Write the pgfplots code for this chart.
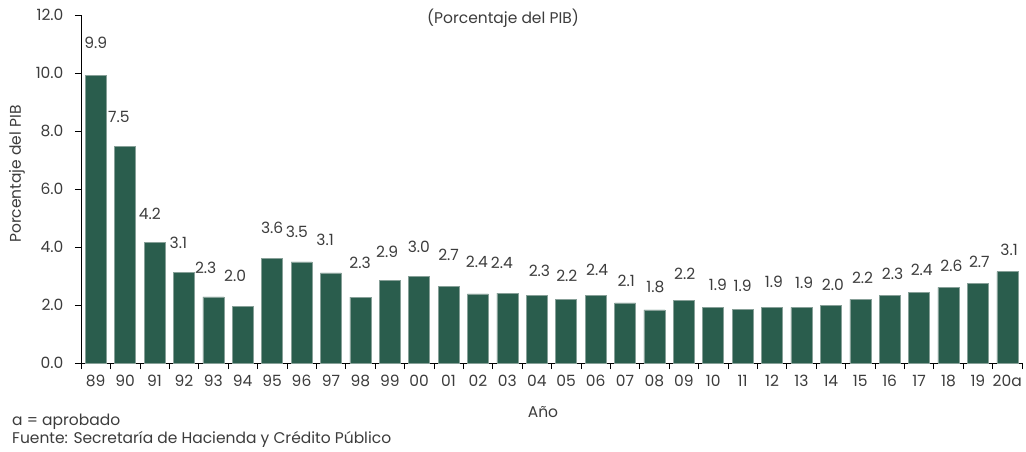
\documentclass[border=0pt]{standalone}
\usepackage{fontspec}
\setmainfont{Poppins}
\usepackage{pgfplots}
\pgfplotsset{compat=1.18}
\definecolor{barcol}{RGB}{42,93,77}
\definecolor{barline}{RGB}{135,160,152}
\definecolor{txt}{RGB}{60,60,60}
\newcommand{\fs}{\fontsize{15.5}{18}\selectfont}

\begin{document}
\begin{tikzpicture}[font=\fs]
\begin{axis}[
  scale only axis, width=941pt, height=348pt,
  at={(0pt,0pt)}, anchor=south west,
  xmin=-0.5, xmax=31.5, ymin=0, ymax=12,
  axis x line=bottom, axis y line=left,
  axis line style={-, black, line width=0.6pt},
  tick align=outside, major tick length=6pt,
  tick style={black, line width=0.6pt},
  xtick={-0.5,0.5,...,31.5}, xticklabels={},
  extra x ticks={0,...,31},
  extra x tick labels={89,90,91,92,93,94,95,96,97,98,99,00,01,02,03,04,05,06,07,08,09,10,11,12,13,14,15,16,17,18,19,20a},
  extra x tick style={major tick length=0pt, xticklabel style={yshift=-9pt}},
  ytick={0,2,...,12},
  yticklabel style={xshift=-8pt, /pgf/number format/.cd, fixed, fixed zerofill, precision=1, assume math mode=true},
  tick label style={font=\fs, text=txt},
  clip=false,
]
\addplot[ybar, bar width=21pt, fill=barcol, draw=barline, line width=0.5pt] coordinates {
  (0,9.93)(1,7.48)(2,4.17)(3,3.13)(4,2.28)(5,1.94)(6,3.61)(7,3.49)
  (8,3.11)(9,2.27)(10,2.85)(11,3.00)(12,2.64)(13,2.38)(14,2.41)(15,2.33)
  (16,2.20)(17,2.33)(18,2.07)(19,1.83)(20,2.15)(21,1.92)(22,1.85)(23,1.92)
  (24,1.92)(25,1.98)(26,2.19)(27,2.34)(28,2.44)(29,2.61)(30,2.75)(31,3.15)
};
\addplot[draw=none, mark=none, nodes near coords, point meta=explicit symbolic,
  every node near coord/.append style={anchor=center, inner sep=0pt, font=\fs, text=txt}]
  coordinates {
  (0.00,11.04)[9.9] (0.79,8.47)[7.5] (1.84,5.14)[4.2] (2.81,4.14)[3.1]
  (3.74,3.28)[2.3] (4.74,3.00)[2.0] (6.00,4.67)[3.6] (6.84,4.53)[3.5]
  (7.80,4.24)[3.1] (8.99,3.45)[2.3] (9.91,3.84)[2.9] (10.99,3.99)[3.0]
  (12.00,3.72)[2.7] (12.96,3.49)[2.4] (13.81,3.44)[2.4] (15.09,3.18)[2.3]
  (16.02,3.00)[2.2] (17.05,3.21)[2.4] (18.04,2.84)[2.1] (19.03,2.61)[1.8]
  (20.03,3.09)[2.2] (21.16,2.69)[1.9] (22.00,2.66)[1.9] (23.06,2.80)[1.9]
  (24.09,2.78)[1.9] (25.07,2.69)[2.0] (26.08,2.94)[2.2] (27.10,3.09)[2.3]
  (28.09,3.21)[2.4] (29.10,3.34)[2.6] (30.05,3.49)[2.7] (31.06,3.90)[3.1]
};
\end{axis}
\node[text=txt] at (422pt,345pt) {(Porcentaje del PIB)};
\node[text=txt, rotate=90] at (-64pt,189pt) {Porcentaje del PIB};
\node[text=txt] at (462pt,-49pt) {Año};
\node[text=txt, anchor=base west, inner sep=0pt] at (-69pt,-62pt) {a = aprobado};
\node[text=txt, anchor=base west, inner sep=0pt] at (-69pt,-80pt) {Fuente: Secretaría de Hacienda y Crédito Público};
\pgfresetboundingbox
\path[use as bounding box] (-81pt,-88pt) rectangle (945pt,363pt);
\end{tikzpicture}
\end{document}
